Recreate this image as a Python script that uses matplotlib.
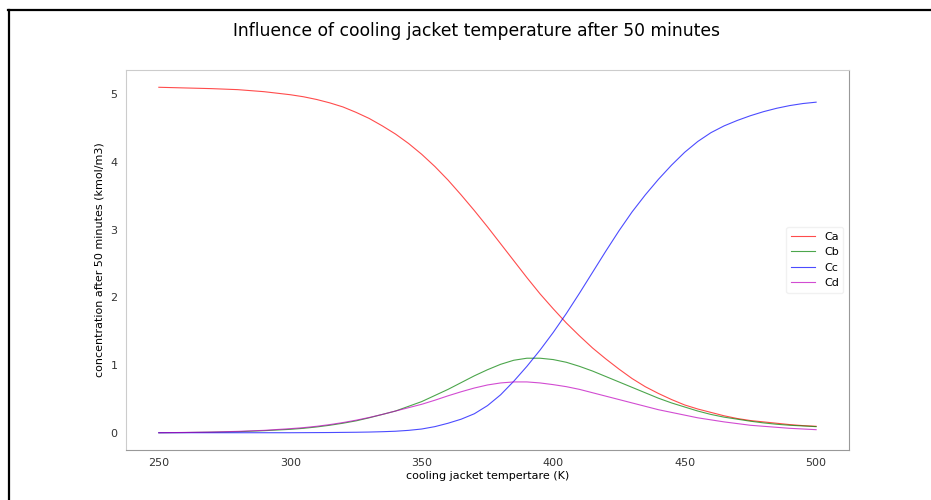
import matplotlib
matplotlib.use("Agg")
from matplotlib import pyplot as plt
from matplotlib.lines import Line2D

# cooling jacket temperature (K)
temps = [250, 260, 270, 280, 290, 300, 305, 310, 315, 320, 325, 330, 335,
         340, 345, 350, 355, 360, 365, 370, 375, 380, 385, 390, 395, 400,
         405, 410, 415, 420, 425, 430, 435, 440, 445, 450, 455, 460, 465,
         470, 475, 480, 485, 490, 495, 500]

# concentrations after 50 minutes (kmol/m3)
ca = [5.10, 5.09, 5.08, 5.065, 5.035, 4.99, 4.96, 4.92, 4.87, 4.81, 4.73,
      4.64, 4.53, 4.41, 4.27, 4.11, 3.93, 3.73, 3.51, 3.28, 3.04, 2.79,
      2.54, 2.29, 2.05, 1.83, 1.62, 1.43, 1.25, 1.09, 0.94, 0.80, 0.68,
      0.58, 0.49, 0.41, 0.35, 0.30, 0.25, 0.21, 0.18, 0.16, 0.14, 0.12,
      0.105, 0.095]
cb = [0.00, 0.003, 0.008, 0.015, 0.03, 0.05, 0.065, 0.085, 0.11, 0.14,
      0.175, 0.22, 0.27, 0.32, 0.39, 0.46, 0.55, 0.64, 0.74, 0.84, 0.93,
      1.01, 1.07, 1.10, 1.10, 1.08, 1.04, 0.98, 0.91, 0.83, 0.75, 0.67,
      0.59, 0.51, 0.44, 0.38, 0.32, 0.27, 0.23, 0.20, 0.17, 0.145, 0.125,
      0.11, 0.10, 0.09]
cc = [0.00, 0.00, 0.00, 0.00, 0.00, 0.00, 0.001, 0.002, 0.003, 0.005, 0.007,
      0.01, 0.015, 0.022, 0.035, 0.055, 0.09, 0.14, 0.20, 0.28, 0.40, 0.56,
      0.76, 0.98, 1.22, 1.48, 1.76, 2.06, 2.37, 2.68, 2.98, 3.26, 3.51,
      3.74, 3.95, 4.14, 4.30, 4.43, 4.53, 4.61, 4.68, 4.74, 4.79, 4.83,
      4.86, 4.88]
cd = [0.00, 0.004, 0.01, 0.02, 0.035, 0.06, 0.075, 0.095, 0.12, 0.15, 0.185,
      0.225, 0.27, 0.32, 0.37, 0.42, 0.48, 0.545, 0.605, 0.66, 0.705, 0.735,
      0.75, 0.75, 0.735, 0.71, 0.68, 0.64, 0.59, 0.54, 0.49, 0.44, 0.39,
      0.34, 0.30, 0.26, 0.22, 0.19, 0.16, 0.135, 0.11, 0.095, 0.08, 0.065,
      0.055, 0.045]

labels = ["Ca", "Cb", "Cc", "Cd"]
colors = ["r", "g", "b", "m"]


def main():
    fig = plt.figure(figsize=(9.31, 5.0), dpi=100)
    ax = fig.add_axes([0.1353, 0.10, 0.7766, 0.76])

    for values, lbl, col in zip([ca, cb, cc, cd], labels, colors):
        ax.plot(temps, values, color=col, lw=0.8, alpha=0.7, label=lbl)

    ax.set_xticks([250, 300, 350, 400, 450, 500])
    ax.set_yticks([0, 1, 2, 3, 4, 5])
    ax.tick_params(length=0, labelsize=8, colors="#333333", pad=6)
    for side in ["left", "top"]:
        ax.spines[side].set_color("#cccccc")
    for side in ["right", "bottom"]:
        ax.spines[side].set_color("#999999")

    ax.set_xlabel("cooling jacket tempertare (K)", fontsize=8, labelpad=2)
    ax.set_ylabel("concentration after 50 minutes (kmol/m3)", fontsize=8,
                  labelpad=4)
    fig.suptitle("Influence of cooling jacket temperature after 50 minutes",
                 fontsize=12.3, x=0.512, y=0.955)
    ax.legend(loc="center right", fontsize=8, frameon=True,
              edgecolor="#eeeeee", handlelength=2.2)

    # black frame from the screenshot
    fig.add_artist(Line2D([0.009, 1.0], [0.98, 0.98], color="black", lw=1.6,
                          transform=fig.transFigure))
    fig.add_artist(Line2D([0.0095, 0.0095], [0.0, 0.98], color="black",
                          lw=1.6, transform=fig.transFigure))

    fig.savefig("out.png", dpi=100)


if __name__ == "__main__":
    main()
